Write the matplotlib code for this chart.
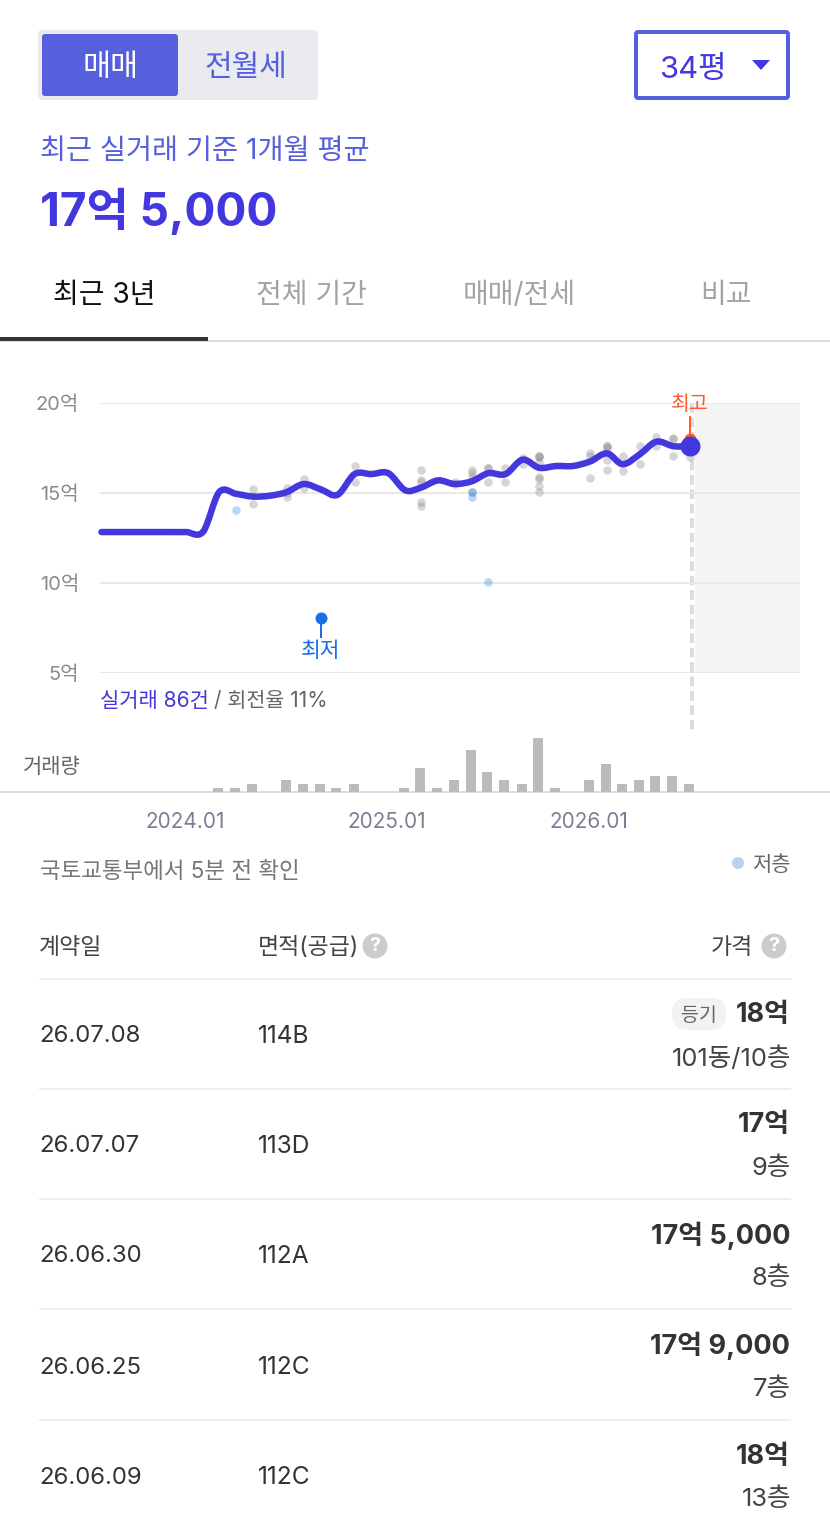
import numpy as np
import matplotlib
matplotlib.use('Agg')
import matplotlib.pyplot as plt
import matplotlib.dates as mdates
from matplotlib.patches import FancyBboxPatch, PathPatch, Circle, Polygon
from matplotlib.path import Path

plt.rcParams['font.family'] = ['Inter', 'Noto Sans CJK KR']

W, H = 830, 1530

# trend line, one value per month (억)
line_months = ['2023-08', '2023-09', '2023-10', '2023-11', '2023-12', '2024-01', '2024-02',
               '2024-03', '2024-04', '2024-05', '2024-06', '2024-07', '2024-08', '2024-09',
               '2024-10', '2024-11', '2024-12', '2025-01', '2025-02', '2025-03', '2025-04',
               '2025-05', '2025-06', '2025-07', '2025-08', '2025-09', '2025-10', '2025-11',
               '2025-12', '2026-01', '2026-02', '2026-03', '2026-04', '2026-05', '2026-06',
               '2026-07']
line_prices = [12.83, 12.83, 12.83, 12.83, 12.83, 12.83, 12.85,
               15.05, 14.95, 14.8, 14.85, 15.05, 15.5, 15.2,
               14.9, 16.05, 16.05, 16.1, 15.15, 15.3, 15.7,
               15.5, 15.65, 16.1, 16.05, 16.85, 16.4, 16.5,
               16.5, 16.75, 17.2, 16.6, 17.15, 17.85, 17.6,
               17.6]

# single deals
deal_months = ['2024-05', '2024-05', '2024-07', '2024-07', '2024-07', '2024-08', '2024-08',
               '2024-11', '2024-11', '2025-03', '2025-03', '2025-03', '2025-03', '2025-03',
               '2025-05', '2025-05', '2025-06', '2025-06', '2025-06', '2025-06', '2025-07',
               '2025-07', '2025-07', '2025-08', '2025-08', '2025-09', '2025-09', '2025-10',
               '2025-10', '2025-10', '2025-10', '2025-10', '2025-10', '2025-10', '2025-10',
               '2026-01', '2026-01', '2026-01', '2026-02', '2026-02', '2026-02', '2026-02',
               '2026-02', '2026-03', '2026-03', '2026-04', '2026-04', '2026-05', '2026-05',
               '2026-06', '2026-06', '2026-06', '2026-07']
deal_prices = [15.2, 14.4, 15.3, 15.0, 14.8, 15.8, 15.3,
               16.5, 15.6, 16.3, 15.75, 15.6, 14.5, 14.3,
               15.6, 15.5, 16.3, 16.1, 15.9, 15.05, 16.4,
               16.4, 15.6, 16.4, 15.6, 16.95, 16.6, 17.05,
               17.05, 17.0, 16.75, 15.9, 15.8, 15.4, 15.05,
               17.25, 17.05, 15.85, 17.6, 17.6, 17.5, 16.85,
               16.3, 17.05, 16.2, 17.6, 16.6, 18.1, 17.6,
               18.05, 18.0, 17.05, 17.0]

# deals on low floors
low_floor_months = ['2024-04', '2025-06', '2025-06', '2025-07']
low_floor_prices = [14.06, 15.05, 14.8, 10.05]

# monthly deal counts
volume_months = ['2024-03', '2024-04', '2024-05', '2024-07', '2024-08', '2024-09', '2024-10',
                 '2024-11', '2025-02', '2025-03', '2025-04', '2025-05', '2025-06', '2025-07',
                 '2025-08', '2025-09', '2025-10', '2025-11', '2026-01', '2026-02', '2026-03',
                 '2026-04', '2026-05', '2026-06', '2026-07']
volume_counts = [1, 1, 2, 3, 2, 2, 1,
                 2, 1, 6, 1, 3, 10.5, 5,
                 3, 2, 13.5, 1, 3, 7, 2,
                 3, 4, 4, 2]

high_month, high_price = '2026-07', 18.0
min_month, min_price = '2024-09', 8.05

y_ticks = [5, 10, 15, 20]
y_labels = ['5억', '10억', '15억', '20억']
x_ticks = ['2024-01', '2025-01', '2026-01']
x_labels = ['2024.01', '2025.01', '2026.01']

tabs = ['최근 3년', '전체 기간', '매매/전세', '비교']
row_dates = ['26.07.08', '26.07.07', '26.06.30', '26.06.25', '26.06.09']
row_areas = ['114B', '113D', '112A', '112C', '112C']
row_prices = ['18억', '17억', '17억 5,000', '17억 9,000', '18억']
row_floors = ['101동/10층', '9층', '8층', '7층', '13층']

PURPLE = '#4338dd'
SOFT = '#5660dc'
RED = '#ff5a2c'
BLUE = '#1a6fe8'


def month_num(m):
    return mdates.date2num(np.datetime64(m + '-01'))


def px_axes(fig, x0, y0, x1, y1):
    return fig.add_axes([x0 / W, 1 - y1 / H, (x1 - x0) / W, (y1 - y0) / H])


def px(size):
    return size * 0.72


def label(ax, x, y, s, size, color='#333333', ha='left', weight='normal'):
    ax.text(x, y + 2.5, s, fontsize=px(size), color=color, ha=ha, va='center', fontweight=weight)


def round_box(ax, x0, y0, x1, y1, r, **kw):
    ax.add_patch(FancyBboxPatch((x0 + r, y0 + r), x1 - x0 - 2 * r, y1 - y0 - 2 * r,
                                boxstyle='round,pad=%g,rounding_size=%g' % (r, r), **kw))


def smooth_path(x, y):
    # catmull-rom through the monthly values, as bezier segments
    y = np.asarray(y, dtype=float)
    d = np.gradient(y)
    verts = [(x[0], y[0])]
    codes = [Path.MOVETO]
    for i in range(len(y) - 1):
        dx = (x[i + 1] - x[i]) / 3
        verts += [(x[i] + dx, y[i] + d[i] / 3), (x[i + 1] - dx, y[i + 1] - d[i + 1] / 3),
                  (x[i + 1], y[i + 1])]
        codes += [Path.CURVE4] * 3
    return Path(verts, codes)


fig = plt.figure(figsize=(W / 100, H / 100), dpi=100, facecolor='white')

ui = fig.add_axes([0, 0, 1, 1], zorder=0)
ui.set_xlim(0, W)
ui.set_ylim(H, 0)
ui.axis('off')

# header controls
round_box(ui, 38, 30, 318, 100, 4, fc='#e9ebef', ec='none')
round_box(ui, 42, 34, 178, 96, 3, fc=SOFT, ec='none')
label(ui, 110, 65, '매매', 30.5, 'white', ha='center')
label(ui, 246, 65, '전월세', 30, SOFT, ha='center')
round_box(ui, 636, 32, 788, 98, 2, fc='white', ec=SOFT, lw=px(4))
label(ui, 693, 67, '34평', 31, PURPLE, ha='center')
ui.add_patch(Polygon([(752, 60), (770, 60), (761, 70)], fc=PURPLE, ec='none'))
label(ui, 40, 149, '최근 실거래 기준 1개월 평균', 28.3, SOFT)
label(ui, 40, 210, '17억 5,000', 46, PURPLE, weight='bold')

# tabs
for tab, cx, col in zip(tabs, [104, 311, 519, 726], ['#111111', '#a3a3a3', '#a3a3a3', '#a3a3a3']):
    label(ui, cx, 293, tab, 28, col, ha='center')
ui.plot([0, W], [341, 341], color='#dddddd', lw=px(2))
ui.plot([0, 208], [339, 339], color='#333333', lw=px(4), solid_capstyle='butt')

# future area and current-month guide
ui.fill_between([695, 800], 403, 673, color='#f4f4f4', lw=0)
ui.plot([692, 692], [403, 730], color='#dcdcdc', lw=px(4), dashes=(2.4, 1.2))

# price chart
x_left = month_num('2024-01') - 86 / 0.5527
x_right = month_num('2024-01') + 614 / 0.5527

ax = px_axes(fig, 100, 403, 800, 673)
ax.set_zorder(2)
ax.patch.set_visible(False)
ax.set_xlim(x_left, x_right)
ax.set_ylim(5, 20)
for side in ax.spines.values():
    side.set_visible(False)
ax.set_xticks([])
ax.set_yticks(y_ticks)
ax.set_yticklabels(y_labels, fontsize=px(20), color='#8a8a8a')
ax.tick_params(axis='y', length=0, pad=px(21))
ax.grid(axis='y', color='#e8e8e8', lw=px(2))
ax.set_axisbelow(True)

ax.scatter([month_num(m) for m in deal_months], deal_prices, s=38, color='#888888',
           alpha=0.34, lw=0, zorder=3, clip_on=False)
ax.scatter([month_num(m) for m in low_floor_months], low_floor_prices, s=38, color='#1a7ae8',
           alpha=0.3, lw=0, zorder=3, clip_on=False)

line_x = [month_num(m) for m in line_months]
ax.add_patch(PathPatch(smooth_path(line_x, line_prices), fc='none', ec=PURPLE, lw=px(6.5),
                       capstyle='round', zorder=5, clip_on=False))

# highest marker
hx = month_num(high_month)
ax.scatter([hx], [high_price], s=px(12) ** 2, color=RED, lw=0, zorder=4)
ax.plot([hx, hx], [high_price, 19.2], color=RED, lw=px(2), zorder=4)
ax.text(hx, 19.88, '최고', fontsize=px(20.5), color=RED, ha='center', va='center', zorder=6)
ax.scatter([line_x[-1]], [line_prices[-1]], s=px(20) ** 2, color=PURPLE, lw=0, zorder=6)

# lowest marker
mx = month_num(min_month)
ax.scatter([mx], [min_price], s=px(12) ** 2, color=BLUE, lw=0, zorder=4)
ax.plot([mx, mx], [min_price, 7.0], color=BLUE, lw=px(2), zorder=4)
ax.text(mx, 6.2, '최저', fontsize=px(21.5), color=BLUE, ha='center', va='center')

label(ui, 100, 698, '실거래 86건', 21, PURPLE)
label(ui, 214, 698, '/ 회전율 11%', 20.7, '#666666')

# volume bars
vol = px_axes(fig, 99, 732, 799, 792)
vol.set_zorder(1)
vol.patch.set_visible(False)
vol.set_xlim(x_left, x_right)
vol.set_ylim(0, 15)
for side in vol.spines.values():
    side.set_visible(False)
vol.bar([month_num(m) for m in volume_months], volume_counts, width=10 / 0.5527, color='#bbbbbb')
vol.set_yticks([])
vol.set_xticks([month_num(m) for m in x_ticks])
vol.set_xticklabels(x_labels, fontsize=px(20.8), color='#7f7d95')
vol.tick_params(axis='x', length=0, pad=px(20))
label(ui, 23, 764, '거래량', 21, '#666666')
ui.plot([0, W], [792, 792], color='#dddddd', lw=px(2))

# source note and legend
label(ui, 40, 869, '국토교통부에서 5분 전 확인', 22.5, '#777777')
ui.add_patch(Circle((738, 863), 6, fc='#b5d3f3', ec='none'))
label(ui, 791, 862, '저층', 21, '#666666', ha='right')

# table
label(ui, 39, 945, '계약일', 23, '#444444')
label(ui, 258, 945, '면적(공급)', 23, '#444444')
label(ui, 753, 945, '가격', 23, '#444444', ha='right')
for cx in [375, 774]:
    ui.add_patch(Circle((cx, 946), 12.5, fc='#cccccc', ec='none'))
    ui.text(cx, 946, '?', fontsize=px(20), color='white', ha='center', va='center', fontweight='bold')

sep_y = [979, 1089, 1199, 1309, 1420]
mid_y = [1034, 1144, 1254, 1365, 1475]
price_y = [1013, 1123, 1233, 1343, 1454]
floor_y = [1056, 1166, 1276, 1387, 1497]
for i in range(len(row_dates)):
    ui.plot([40, 790], [sep_y[i], sep_y[i]], color='#eeeeee', lw=px(2))
    label(ui, 39, mid_y[i], row_dates[i], 24)
    label(ui, 258, mid_y[i], row_areas[i], 24.5)
    label(ui, 790, price_y[i], row_prices[i], 27, '#333333', ha='right', weight='bold')
    label(ui, 791, floor_y[i], row_floors[i], 25.5, '#444444', ha='right')

round_box(ui, 672, 998, 726, 1030, 15, fc='#f2f2f2', ec='none')
label(ui, 699, 1013, '등기', 19.5, '#666666', ha='center')

fig.savefig('out.png', dpi=100)
plt.close(fig)
